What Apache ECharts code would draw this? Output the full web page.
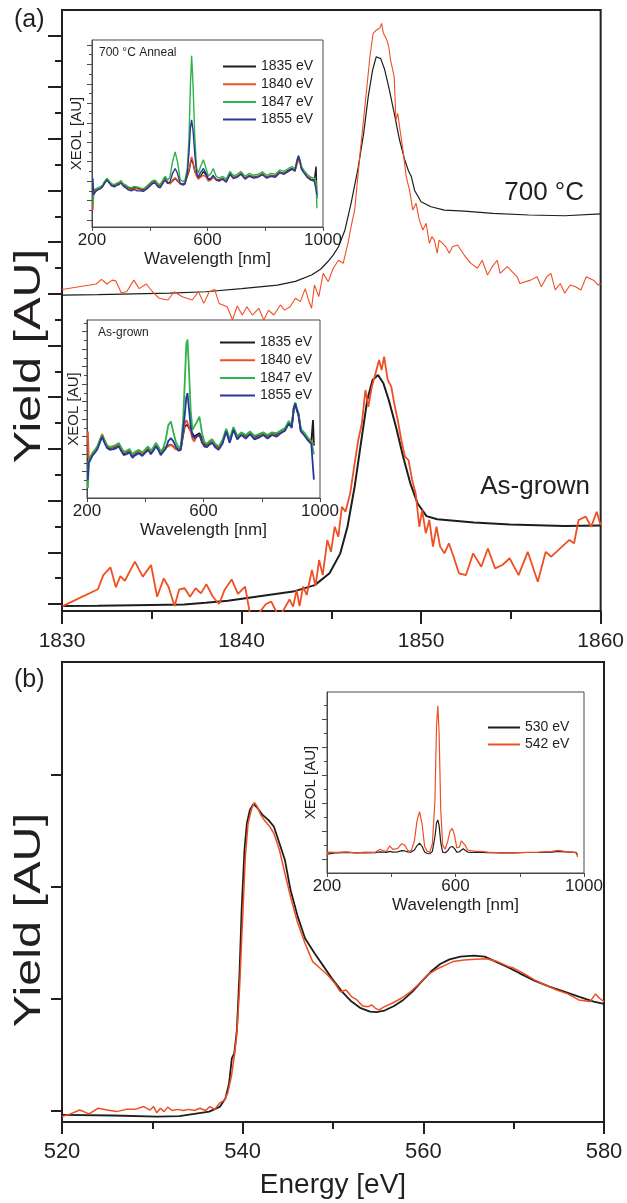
<!DOCTYPE html>
<html><head><meta charset="utf-8">
<script src="https://cdn.jsdelivr.net/npm/echarts@6/dist/echarts.min.js"></script>
<style>html,body{margin:0;padding:0;background:#fff}#c{width:627px;height:1203px}</style>
</head><body><div id="c"></div>
<script>
// ---------- Panel (a): S K-edge yields (arbitrary units) ----------
const a700BlackE = [1830,1832,1834,1836,1838,1840,1841,1842,1843,1843.9,
  1844.4,1844.8,1845.1,1845.4,1845.76,1846.1,1846.5,1846.8,1847.05,1847.3,
  1847.5,1847.75,1847.96,1848.2,1848.5,1848.8,1849.08,1849.3,1849.45,1849.64,
  1850,1850.55,1851.3,1852.4,1854,1856,1858,1860];
const a700BlackY = [11.95,11.97,12.0,12.03,12.08,12.2,12.27,12.34,12.48,12.73,
  12.95,13.24,13.5,13.82,14.47,15.5,16.9,18.2,19.6,20.66,
  21.17,21.1,20.7,20.0,19.0,17.95,17.2,16.75,16.55,16.0,
  15.56,15.37,15.24,15.2,15.11,15.05,15.02,15.09];
const a700RedE = [1830,1831.9,1832.2,1832.5,1832.8,1833.0,1833.3,1833.6,1834.0,1834.3,
  1834.7,1835.04,1835.4,1835.9,1836.25,1836.7,1837.25,1837.6,1837.9,1838.2,
  1838.5,1838.75,1839.2,1839.5,1839.76,1840.04,1840.3,1840.6,1840.96,1841.24,
  1841.5,1841.8,1842.16,1842.4,1842.7,1843.0,1843.27,1843.55,1843.73,1843.9,
  1844.06,1844.3,1844.55,1844.83,1845.1,1845.4,1845.66,1845.94,1846.1,1846.3,
  1846.6,1846.87,1847.15,1847.33,1847.5,1847.7,1847.8,1847.9,1848.06,1848.2,
  1848.3,1848.5,1848.6,1848.7,1848.8,1848.99,1849.17,1849.36,1849.54,1849.72,
  1849.9,1850.1,1850.28,1850.46,1850.6,1850.74,1850.9,1851.0,1851.2,1851.38,
  1851.57,1851.75,1852.03,1852.4,1852.77,1853.14,1853.4,1853.7,1853.96,1854.24,
  1854.4,1854.8,1855.35,1855.5,1856.1,1856.46,1856.7,1857.0,1857.23,1857.47,
  1857.75,1858.0,1858.3,1858.6,1858.9,1859.2,1859.6,1859.87,1860];
const a700RedY = [12.17,12.38,12.56,12.38,12.53,12.5,12.04,12.08,12.53,12.2,
  12.38,12.08,11.83,11.76,12.08,11.89,11.76,12.08,11.63,12.08,
  12.17,11.63,11.5,10.99,11.53,11.18,11.5,11.18,11.44,10.99,
  11.37,11.18,11.57,11.37,11.5,11.83,11.7,12.2,11.76,11.44,
  12.34,11.89,12.79,12.47,12.98,13.3,13.18,14.0,14.6,15.24,
  17.43,19.24,21.17,22.08,22.2,22.28,22.46,22.08,21.88,21.56,
  21.04,20.4,18.72,18.98,18.47,17.56,16.53,16.0,15.24,15.5,
  14.86,14.47,14.73,13.95,14.21,14.08,13.57,14.08,13.95,13.82,
  13.57,13.82,13.89,13.5,13.18,12.99,13.3,12.73,13.05,13.3,
  12.79,13.05,12.66,12.4,12.53,12.66,12.27,12.66,12.79,12.15,
  12.4,12.02,12.34,12.27,12.15,12.66,12.53,12.34,12.4];
const agBlackE = [1830,1832,1834,1836.8,1838,1839.24,1841,1842.87,1844.08,1844.9,
  1845.5,1845.9,1846.3,1846.7,1847.0,1847.3,1847.6,1847.9,1848.2,1848.6,
  1849.0,1849.4,1849.8,1850.3,1850.9,1852.94,1854.95,1857.97,1860];
const agBlackY = [-0.08,-0.07,-0.05,-0.02,0.05,0.13,0.3,0.48,0.73,1.19,
  1.96,2.99,4.54,6.47,7.89,8.67,8.86,8.54,7.89,6.86,
  5.7,4.67,3.9,3.4,3.28,3.15,3.08,3.02,3.04];
const agRedE = [1830.03,1832.0,1832.3,1832.7,1833.0,1833.25,1833.5,1834.06,1834.5,1834.96,
  1835.3,1835.67,1835.93,1836.27,1836.53,1836.83,1837.13,1837.44,1837.74,1838.04,
  1838.4,1838.75,1839.05,1839.45,1839.8,1840.2,1840.5,1840.8,1841.36,1841.66,
  1842.07,1842.37,1842.67,1842.87,1843.07,1843.23,1843.43,1843.63,1843.92,1844.12,
  1844.32,1844.52,1844.78,1844.98,1845.19,1845.39,1845.59,1845.79,1846.05,1846.3,
  1846.5,1846.7,1846.9,1847.06,1847.26,1847.46,1847.66,1847.8,1847.94,1848.14,
  1848.34,1848.54,1848.7,1848.9,1849.1,1849.3,1849.5,1849.7,1849.9,1850.06,
  1850.26,1850.46,1850.66,1850.86,1851.06,1851.3,1851.55,1851.81,1852.11,1852.5,
  1852.9,1853.35,1853.72,1854.12,1854.53,1854.93,1855.43,1855.94,1856.5,1856.94,
  1857.25,1857.85,1858.26,1858.52,1858.77,1859.17,1859.47,1859.78,1860.0];
const agRedY = [-0.08,0.57,1.12,1.42,0.65,1.08,0.9,1.64,1.06,1.51,
  0.28,0.99,0.67,-0.08,0.57,0.61,0.28,0.61,0.41,0.77,
  0.28,0.0,0.54,0.95,0.39,0.67,-0.5,-0.5,0.0,0.09,
  -0.5,-0.2,0.18,-0.1,0.54,-0.08,0.67,0.35,1.32,0.7,
  1.7,1.12,2.48,2.02,2.99,2.6,3.76,3.57,4.28,5.44,
  6.34,6.99,8.28,7.63,8.41,8.92,9.44,9.05,9.57,8.67,
  8.41,7.63,7.12,6.34,5.7,5.57,4.8,4.28,2.99,3.64,
  2.74,3.25,2.22,2.99,2.22,1.96,2.35,1.83,1.19,1.12,
  1.96,1.44,2.15,1.38,1.51,1.77,1.12,2.02,0.86,2.02,
  1.83,2.22,2.48,2.35,3.25,3.38,2.99,3.57,3.06];
const aTicksMajor = [0,2,4,6,8,10,12,14,16,18,20,22];
const aTicksMinor = [1,3,5,7,9,11,13,15,17,19,21];

// ---------- Panel (b): O K-edge yields ----------
const bBlackE = [520,525.65,530.56,533,534.65,536.3,537.5,538.1,538.5,538.8,
  539.07,539.36,539.65,539.9,540.2,540.47,540.8,541.2,541.7,542.2,
  542.84,543.45,544.07,544.68,545.3,546.1,546.9,547.96,548.98,550,
  551,552.05,553.07,554.1,554.8,555.7,556.76,557.78,558.8,559.8,
  560.85,561.87,562.9,564.1,565.56,566.8,568,569.24,570.67,572.3,
  573.95,575.6,577.2,578.86,580];
const bBlackY = [-0.04,-0.045,-0.055,-0.05,-0.03,-0.01,0.035,0.11,0.243,0.466,
  0.51,0.72,1.227,1.823,2.33,2.57,2.689,2.743,2.70,2.644,
  2.6,2.54,2.39,2.24,1.972,1.734,1.54,1.406,1.287,1.168,
  1.063,0.974,0.915,0.885,0.879,0.894,0.935,0.989,1.063,1.153,
  1.243,1.311,1.352,1.376,1.385,1.376,1.332,1.287,1.227,1.162,
  1.108,1.063,1.019,0.974,0.953];
const bRedE = [520,520.94,521.96,523,524,525,526.06,527.08,528.1,529.05,
  529.74,530.15,530.48,530.9,531.3,531.7,532.2,532.8,533.43,534.04,
  534.65,535.27,535.9,536.37,536.9,537.44,537.93,538.34,538.75,539.07,
  539.36,539.65,539.97,540.3,540.6,541,541.3,541.6,542,542.5,
  543,543.45,544.07,544.68,545.3,546.1,546.9,547.75,548.57,549.4,
  550.2,550.8,551.44,552.05,552.66,553.28,553.9,554.3,554.7,555.1,
  555.7,556.55,557.57,558.6,559.6,560.44,561.46,562.5,563.3,564.5,
  565.76,567,568.2,569.44,570.06,571.1,572.3,573.5,574.77,576,
  577.2,578.45,579.07,579.5,580];
const bRedY = [-0.055,-0.03,0.004,-0.03,0.02,0.004,-0.01,0.01,0.01,0.035,
  0.004,0.035,-0.02,0.02,-0.01,0.03,0,0.01,0,0.01,
  0,0.02,0,0.035,0.01,0.065,0.09,0.154,0.303,0.482,
  0.69,1.078,1.674,2.27,2.57,2.70,2.755,2.72,2.644,2.585,
  2.54,2.48,2.33,2.12,1.912,1.674,1.496,1.332,1.272,1.212,
  1.138,1.063,1.078,1.019,0.989,0.935,0.929,0.944,0.914,0.9,
  0.929,0.959,1.004,1.063,1.138,1.212,1.263,1.302,1.332,1.346,
  1.352,1.358,1.332,1.287,1.272,1.227,1.168,1.123,1.078,1.043,
  0.989,0.974,1.043,1.004,0.974];
const bTicks = [0,1,2,3];

// ---------- Insets: XEOL spectra (AU) ----------
const insetWavelength = [203,206,212,220,228,236,244,252,260,269,
  278,286,294,301,309,317,326,336,346,356,
  366,378,390,401,410,419,428,436,445,453,
  462,470,479,488,496,505,514,522,530,536,
  541,545,550,556,562,568,576,586,595,603,
  612,620,630,640,652,665,678,690,703,716,
  730,745,760,775,790,805,820,835,850,865,
  880,893,903,910,915,920,926,934,945,958,
  970,976,979];
const anneal1835 = [3.9,4.0,4.1,4.2,4.3,4.5,4.9,5.2,4.9,4.6,
  4.55,4.7,4.8,4.95,4.6,4.5,4.3,4.2,4.35,4.3,
  4.2,4.1,4.35,4.65,4.9,4.95,4.6,4.45,4.9,5.3,
  4.9,4.75,5.0,5.3,5.0,4.75,4.7,4.8,5.5,6.0,
  6.8,7.3,6.8,6.0,5.6,5.3,5.5,6.0,5.6,5.1,
  5.2,5.45,5.2,5.1,5.3,5.0,5.8,5.35,5.5,5.8,
  5.3,5.6,5.4,5.5,5.75,5.4,5.6,5.5,5.95,5.8,
  6.1,6.3,6.1,6.9,7.4,7.0,6.3,5.95,5.5,5.2,
  5.1,6.5,3.2];
const anneal1840 = [2.0,3.9,4.0,4.15,4.25,4.4,4.8,5.1,4.8,4.5,
  4.45,4.65,4.7,4.9,4.5,4.4,4.2,4.1,4.25,4.2,
  4.1,4.0,4.3,4.55,4.8,4.9,4.5,4.4,4.85,5.2,
  4.85,4.7,5.1,5.35,5.1,4.7,4.65,4.75,5.6,6.2,
  7.0,7.5,7.0,6.1,5.5,5.2,5.4,5.6,5.4,5.0,
  5.1,5.4,5.15,5.05,5.25,4.95,5.7,5.3,5.45,5.75,
  5.25,5.55,5.35,5.45,5.7,5.35,5.55,5.45,5.9,5.75,
  6.0,6.2,6.0,6.7,7.2,6.9,6.2,5.9,5.45,5.15,
  5.0,5.0,4.3];
const anneal1847 = [2.4,4.1,4.2,4.3,4.4,4.6,5.0,5.3,5.0,4.7,
  4.65,4.8,4.9,5.05,4.7,4.6,4.4,4.3,4.45,4.4,
  4.3,4.2,4.5,4.8,5.05,5.1,4.75,4.65,5.1,5.5,
  5.1,5.4,7.0,8.0,7.0,5.2,4.95,5.1,6.3,9.5,
  15.0,17.9,14.8,9.5,6.4,5.8,6.5,7.2,6.3,5.5,
  5.8,6.3,5.5,5.3,5.5,5.2,6.0,5.55,5.7,6.0,
  5.5,5.8,5.6,5.7,5.95,5.6,5.8,5.7,6.15,6.0,
  6.3,6.5,6.3,7.2,7.6,7.2,6.5,6.1,5.7,5.4,
  5.3,5.0,2.2];
const anneal1855 = [5.3,3.6,3.9,4.1,4.2,4.4,4.8,5.1,4.8,4.5,
  4.4,4.55,4.65,4.8,4.45,4.3,4.1,4.0,4.15,4.0,
  4.0,3.95,4.2,4.5,4.75,4.8,4.4,4.3,4.75,5.1,
  4.75,4.9,5.8,6.3,5.8,4.8,4.6,4.7,5.8,8.0,
  10.5,11.3,10.2,7.8,5.9,5.4,5.9,6.3,5.8,5.2,
  5.3,5.6,5.1,5.0,5.2,4.9,5.7,5.25,5.4,5.7,
  5.2,5.5,5.3,5.4,5.65,5.3,5.5,5.4,5.85,5.7,
  6.0,6.25,6.05,7.1,7.6,7.1,6.2,5.85,5.4,5.1,
  5.0,4.8,3.6];
const grown1835 = [4.56,4.2,4.6,5.1,5.4,5.8,6.5,7.2,6.5,5.9,
  5.7,5.75,5.8,5.9,6.1,5.6,5.1,5.2,5.4,4.8,
  5.1,5.3,5.0,5.4,5.7,5.2,5.6,6.1,5.7,5.1,
  5.5,5.8,6.0,6.1,5.9,5.6,5.55,5.6,7.2,8.2,
  8.4,8.37,8.0,7.8,7.4,7.0,7.2,7.4,6.8,6.1,
  6.0,6.3,6.5,6.0,5.7,6.4,7.8,6.5,8.0,6.9,
  7.4,7.0,7.5,6.9,7.1,7.4,7.0,7.4,7.2,7.6,
  7.9,8.7,8.2,10.3,10.8,10.2,9.6,7.8,7.4,6.8,
  6.4,8.9,6.0];
const grown1840 = [7.6,4.4,4.7,5.2,5.5,5.9,6.6,7.3,6.6,6.0,
  5.8,5.8,5.9,6.0,6.2,5.7,5.2,5.3,5.5,4.9,
  5.2,5.35,5.1,5.5,5.8,5.3,5.65,6.1,5.75,5.1,
  5.5,5.7,5.9,6.08,5.9,5.6,5.5,5.6,7.4,8.5,
  8.9,8.94,8.2,7.6,6.8,6.46,7.0,7.2,6.6,5.9,
  5.9,6.2,6.5,5.9,5.6,6.3,7.7,6.4,7.9,6.8,
  7.3,6.9,7.4,6.8,7.0,7.3,6.9,7.3,7.1,7.5,
  7.8,8.6,8.1,10.2,10.7,10.1,9.5,7.7,7.3,6.7,
  6.4,6.4,6.2];
const grown1847 = [1.14,4.3,4.7,5.2,5.5,5.9,6.6,7.2,6.6,6.0,
  5.85,5.9,6.0,6.1,6.3,5.8,5.3,5.4,5.6,5.0,
  5.3,5.5,5.2,5.6,5.9,5.4,5.8,6.3,5.9,5.3,
  5.7,6.6,8.3,8.75,7.6,6.4,5.8,5.9,8.8,13.5,
  17.6,18.1,14.8,10.0,7.8,7.6,8.6,9.3,7.4,6.4,
  6.2,6.5,6.7,6.2,5.9,6.6,7.9,6.7,8.1,7.1,
  7.5,7.2,7.6,7.1,7.3,7.5,7.2,7.5,7.4,7.7,
  8.0,8.8,8.3,10.4,10.9,10.3,9.7,7.9,7.5,6.9,
  6.5,6.3,5.0];
const grown1855 = [2.1,4.0,4.4,4.9,5.2,5.6,6.3,7.0,6.3,5.7,
  5.5,5.55,5.6,5.7,5.9,5.4,4.9,5.0,5.2,4.6,
  4.9,5.1,4.8,5.2,5.5,5.0,5.4,5.9,5.5,4.9,
  5.3,5.6,6.5,6.84,6.5,5.9,5.4,5.5,7.8,9.6,
  11.5,11.98,10.2,8.2,7.2,6.84,7.0,7.22,6.3,5.9,
  5.8,6.1,6.3,5.8,5.5,6.2,7.6,6.3,7.8,6.7,
  7.2,6.8,7.3,6.7,6.9,7.2,6.8,7.2,7.0,7.4,
  7.7,8.5,8.0,10.2,10.8,10.1,9.5,7.6,7.2,6.6,
  6.2,6.0,2.1];
const oxWavelength = [200,202,230,260,290,320,350,365,375,385,
  395,405,420,432,442,452,462,472,480,488,
  496,504,512,520,528,536,541,545,549,554,
  560,568,576,583,590,597,604,612,618,624,
  630,638,648,660,680,700,740,780,820,860,
  900,920,940,960,975,980];
const ox542 = [1.25,1.5,1.48,1.52,1.45,1.5,1.48,1.7,1.6,1.55,
  1.95,1.7,1.75,2.1,2.0,1.6,1.58,2.3,3.7,4.4,
  3.5,1.9,1.55,1.5,2.1,5.2,10.6,12.0,10.0,4.6,
  2.0,1.7,2.3,3.0,3.2,2.7,1.8,1.85,2.3,2.4,
  2.0,1.65,1.6,1.55,1.55,1.5,1.45,1.45,1.48,1.5,
  1.55,1.62,1.55,1.5,1.45,1.15];
const ox530 = [1.35,1.45,1.45,1.48,1.45,1.45,1.46,1.52,1.5,1.48,
  1.55,1.5,1.52,1.6,1.58,1.52,1.5,1.65,1.95,2.14,
  1.9,1.5,1.4,1.38,1.55,2.6,3.6,3.81,3.4,2.2,
  1.5,1.45,1.6,1.85,1.9,1.75,1.5,1.52,1.65,1.74,
  1.6,1.5,1.48,1.47,1.47,1.46,1.45,1.45,1.47,1.48,
  1.5,1.55,1.52,1.5,1.48,1.3];
const insetTicksA1Major = [1,3,5,7,9,11,13,15,17,19];
const insetTicksA1Minor = [2,4,6,8,10,12,14,16,18];
const insetTicksA2Major = [1,3,5,7,9,11,13,15,17,19];
const insetTicksA2Minor = [2,4,6,8,10,12,14,16,18,20];
const insetTicksBMajor = [1,3,5,7,9,11];
const insetTicksBMinor = [2,4,6,8,10,12];
const annealNames = ['1835 eV','1840 eV','1847 eV','1855 eV'];
const oxNames = ['530 eV','542 eV'];

// ---------- styling ----------
const FONT = '"Liberation Sans", Arial, Helvetica, sans-serif';
const INK = '#231f20';
const FRAME = '#4a4a4a';
const C_BLACK = '#1d1d1b';
const C_RED = '#f04e23';
const C_GREEN = '#2fb34b';
const C_BLUE = '#26399a';

function pairs(xs, ys) { return xs.map((x, i) => [x, ys[i]]); }

function mainX(grid, min, max, interval, fs, margin, tickLen, minorLen, name) {
  return {
    gridIndex: grid, type: 'value', min, max, interval,
    axisLine: { show: true, onZero: false, lineStyle: { color: INK, width: 2 } },
    axisTick: { show: true, inside: false, length: tickLen, lineStyle: { color: INK, width: 2 } },
    minorTick: { show: true, splitNumber: 2, length: minorLen, lineStyle: { color: INK, width: 2 } },
    axisLabel: { fontSize: fs, color: INK, margin, fontFamily: FONT, formatter: v => String(v) },
    splitLine: { show: false }, minorSplitLine: { show: false },
    name: name || '', nameLocation: 'middle', nameGap: 49,
    nameTextStyle: { fontSize: 28, color: INK, fontFamily: FONT }
  };
}
function customY(grid, min, max, ticks, len, lineShow, color, width) {
  return {
    gridIndex: grid, type: 'value', min, max, position: 'left', offset: 0,
    axisLine: { show: lineShow, onZero: false, lineStyle: { color, width } },
    axisTick: { show: true, inside: false, length: len, customValues: ticks, lineStyle: { color, width } },
    axisLabel: { show: false }, splitLine: { show: false }
  };
}
function insetX(grid) {
  return {
    gridIndex: grid, type: 'value', min: 200, max: 1000, interval: 200,
    axisLine: { show: true, onZero: false, lineStyle: { color: FRAME, width: 1 } },
    axisTick: { show: true, inside: false, length: 4, lineStyle: { color: FRAME, width: 1 } },
    axisLabel: { fontSize: 17, color: INK, margin: 5, fontFamily: FONT,
      formatter: v => (v === 400 || v === 800) ? '' : String(v) },
    splitLine: { show: false },
    name: 'Wavelength [nm]', nameLocation: 'middle', nameGap: 24,
    nameTextStyle: { fontSize: 17, color: INK, fontFamily: FONT }
  };
}
function insetYName(axis, gap) {
  axis.name = 'XEOL [AU]';
  axis.nameLocation = 'middle';
  axis.nameGap = gap;
  axis.nameTextStyle = { fontSize: 15, color: INK, fontFamily: FONT };
  return axis;
}
function line(name, xi, yi, xs, ys, color, width) {
  return { type: 'line', name, xAxisIndex: xi, yAxisIndex: yi, data: pairs(xs, ys),
    symbol: 'none', showSymbol: false, color, lineStyle: { color, width },
    animation: false, z: 3, clip: true };
}
function legend(names, left, top, w, gap) {
  return { data: names, left, top, orient: 'vertical', icon: 'rect',
    itemWidth: w, itemHeight: 2, itemGap: gap, selectedMode: false,
    textStyle: { fontSize: 14, color: INK, fontFamily: FONT, lineHeight: 17 } };
}
function yTitle(cy) {
  return { type: 'text', x: 30, y: cy, rotation: Math.PI / 2, scaleX: 1.35, scaleY: 1,
    style: { text: 'Yield [AU]', font: '36px ' + FONT, fill: INK,
      align: 'center', verticalAlign: 'middle', textAlign: 'center', textVerticalAlign: 'middle' } };
}

const mainGrid = { show: true, borderColor: INK, borderWidth: 2, backgroundColor: 'transparent' };
const insetGrid = { show: true, borderColor: FRAME, borderWidth: 1, backgroundColor: '#fff' };

const option = {
  backgroundColor: '#fff',
  animation: false,
  textStyle: { fontFamily: FONT },
  grid: [
    Object.assign({ left: 62, top: 10, width: 542, height: 601 }, mainGrid),
    Object.assign({ left: 62, top: 662, width: 542, height: 460 }, mainGrid),
    Object.assign({ left: 92, top: 40, width: 231, height: 187 }, insetGrid),
    Object.assign({ left: 87, top: 320, width: 233, height: 178 }, insetGrid),
    Object.assign({ left: 327, top: 692, width: 257, height: 181 }, insetGrid)
  ],
  xAxis: [
    mainX(0, 1830, 1860, 10, 21, 20, 13, 8),
    mainX(1, 520, 580, 20, 22, 19, 12, 7, 'Energy [eV]'),
    insetX(2), insetX(3), insetX(4)
  ],
  yAxis: [
    customY(0, -0.27, 22.98, aTicksMajor, 14, true, INK, 2),
    customY(0, -0.27, 22.98, aTicksMinor, 7, false, INK, 2),
    customY(1, -0.103, 4.012, bTicks, 11, true, INK, 2),
    insetYName(customY(2, 0.28, 19.51, insetTicksA1Major, 5, true, FRAME, 1), 8),
    customY(2, 0.28, 19.51, insetTicksA1Minor, 3, false, FRAME, 1),
    insetYName(customY(3, 0, 20.34, insetTicksA2Major, 5, true, FRAME, 1), 6),
    customY(3, 0, 20.34, insetTicksA2Minor, 3, false, FRAME, 1),
    insetYName(customY(4, 0, 12.98, insetTicksBMajor, 5, true, FRAME, 1), 9),
    customY(4, 0, 12.98, insetTicksBMinor, 3, false, FRAME, 1)
  ],
  legend: [
    legend(annealNames, 218, 53, 33, 0.7),
    legend(annealNames, 215, 329, 35, 0.7),
    legend(oxNames, 483, 714, 32, 0)
  ],
  series: [
    line('700 °C yield (black)', 0, 0, a700BlackE, a700BlackY, C_BLACK, 1.2),
    line('700 °C yield (red)', 0, 0, a700RedE, a700RedY, C_RED, 1.1),
    line('As-grown yield (black)', 0, 0, agBlackE, agBlackY, C_BLACK, 2),
    line('As-grown yield (red)', 0, 0, agRedE, agRedY, C_RED, 1.8),
    line('O K-edge yield (black)', 1, 2, bBlackE, bBlackY, C_BLACK, 1.8),
    line('O K-edge yield (red)', 1, 2, bRedE, bRedY, C_RED, 1.5),
    line(annealNames[0], 2, 3, insetWavelength, anneal1835, C_BLACK, 1.4),
    line(annealNames[1], 2, 3, insetWavelength, anneal1840, C_RED, 1.4),
    line(annealNames[2], 2, 3, insetWavelength, anneal1847, C_GREEN, 1.4),
    line(annealNames[3], 2, 3, insetWavelength, anneal1855, C_BLUE, 1.4),
    line(annealNames[0], 3, 5, insetWavelength, grown1835, C_BLACK, 1.8),
    line(annealNames[1], 3, 5, insetWavelength, grown1840, C_RED, 1.8),
    line(annealNames[2], 3, 5, insetWavelength, grown1847, C_GREEN, 1.8),
    line(annealNames[3], 3, 5, insetWavelength, grown1855, C_BLUE, 1.8),
    line(oxNames[0], 4, 7, oxWavelength, ox530, C_BLACK, 1.2),
    line(oxNames[1], 4, 7, oxWavelength, ox542, C_RED, 1.2)
  ],
  graphic: [
    { type: 'text', left: 14, top: 8, style: { text: '(a)', font: '25px ' + FONT, fill: INK } },
    { type: 'text', left: 14, top: 668, style: { text: '(b)', font: '25px ' + FONT, fill: INK } },
    yTitle(356),
    yTitle(920),
    { type: 'text', x: 584, y: 193,
      style: { text: '700 °C', font: '26px ' + FONT, fill: INK, align: 'right', verticalAlign: 'middle', textAlign: 'right', textVerticalAlign: 'middle' } },
    { type: 'text', x: 590, y: 487,
      style: { text: 'As-grown', font: '26px ' + FONT, fill: INK, align: 'right', verticalAlign: 'middle', textAlign: 'right', textVerticalAlign: 'middle' } },
    { type: 'text', x: 99, y: 53, z: 100,
      style: { text: '700 °C Anneal', font: '12px ' + FONT, fill: INK, verticalAlign: 'middle', textVerticalAlign: 'middle' } },
    { type: 'text', x: 98, y: 333, z: 100,
      style: { text: 'As-grown', font: '12px ' + FONT, fill: INK, verticalAlign: 'middle', textVerticalAlign: 'middle' } }
  ]
};

const chart = echarts.init(document.getElementById('c'), null, { renderer: 'canvas', width: 627, height: 1203 });
chart.setOption(option);
</script></body></html>
